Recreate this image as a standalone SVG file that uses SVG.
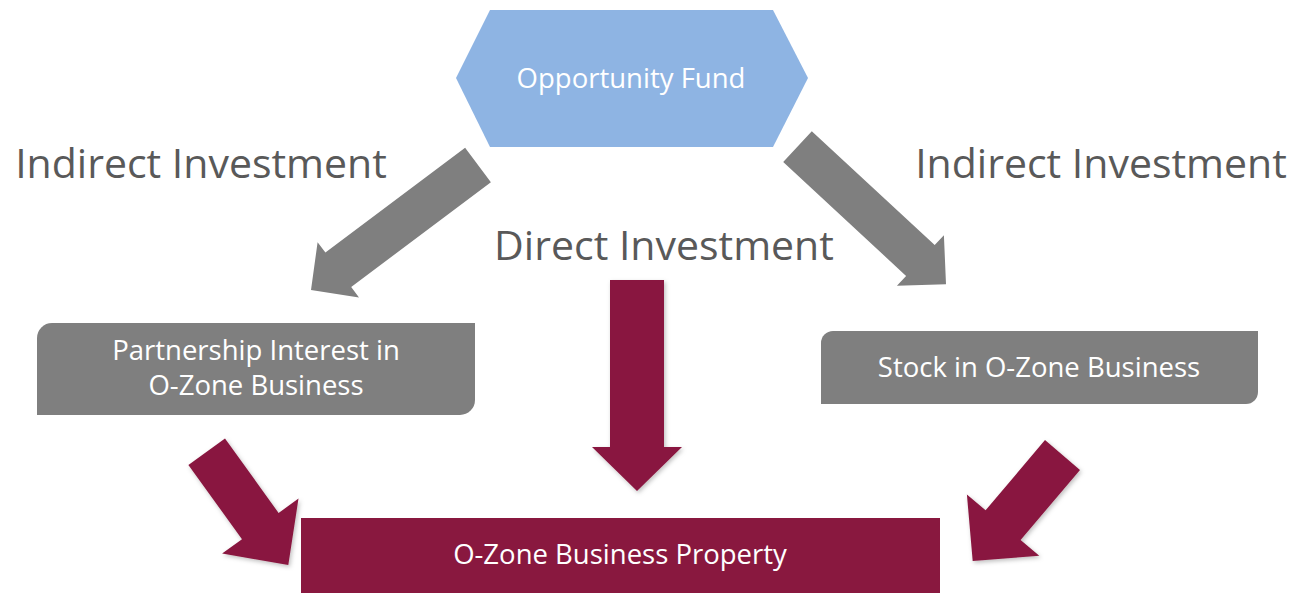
<svg xmlns="http://www.w3.org/2000/svg" width="1298" height="593" viewBox="0 0 1298 593">
  <style>
    .lbl { font-family: "Open Sans", "Noto Sans", "Liberation Sans", sans-serif; font-size: 41px; fill: #595959; text-anchor: middle; }
    .nt { font-family: "Open Sans", "Noto Sans", "Liberation Sans", sans-serif; font-size: 27.5px; fill: #ffffff; text-anchor: middle; }
    .gray { fill: #7f7f7f; }
    .maroon { fill: #89183f; }
    .arrow-m { fill: #89183f; filter: url(#sh); }
    .arrow-g { fill: #7f7f7f; }
  </style>
  <defs>
    <filter id="sh" x="-20%" y="-20%" width="140%" height="140%">
      <feDropShadow dx="1.5" dy="2" stdDeviation="2" flood-color="#000000" flood-opacity="0.25"/>
    </filter>
  </defs>
  <rect width="1298" height="593" fill="#ffffff"/>

  <g id="labels">
    <text class="lbl" x="201" y="178">Indirect Investment</text>
    <text class="lbl" x="1101" y="178">Indirect Investment</text>
    <text class="lbl" x="664" y="260">Direct Investment</text>
  </g>

  <g id="connectors">
    <polygon class="arrow-g" points="465.1,147.8 490.9,182.2 351.2,287 359,297.4 311,290 317.6,242.2 325.4,252.6"/>
    <polygon class="arrow-g" points="811.8,131.3 934.7,245.1 943.9,235.2 946,284.3 896.9,285.8 906.1,275.9 783.2,162.1"/>
    <polygon class="arrow-m" points="610,280 664,280 664,447 682,447 637,491 592,447 610,447"/>
    <polygon class="arrow-m" points="225,438.5 278.6,512.9 298.5,498.6 288.3,565 222.1,553.6 242,539.3 188.4,464.9"/>
    <polygon class="arrow-m" points="1045,440.1 1080,469.9 1020.6,540 1039.3,555.8 972.7,561 966.9,494.4 985.6,510.2"/>
  </g>

  <g id="opportunity-fund">
    <polygon points="490,10 773,10 808,78 773,147 490,147 456,78" fill="#8eb4e3"/>
    <text class="nt" x="631" y="88" font-size="28.5">Opportunity Fund</text>
  </g>

  <g id="partnership-interest">
    <path class="gray" d="M37,415 L37,338 A15,15 0 0 1 52,323 L475,323 L475,400 A15,15 0 0 1 460,415 Z"/>
    <text class="nt" x="256" y="360">Partnership Interest in</text>
    <text class="nt" x="256" y="395">O-Zone Business</text>
  </g>

  <g id="stock">
    <path class="gray" d="M821,404 L821,343 A12,12 0 0 1 833,331 L1258,331 L1258,392 A12,12 0 0 1 1246,404 Z"/>
    <text class="nt" x="1039" y="377">Stock in O-Zone Business</text>
  </g>

  <g id="ozone-property">
    <rect class="maroon" x="301" y="518" width="639" height="75"/>
    <text class="nt" x="620" y="564">O-Zone Business Property</text>
  </g>
</svg>
